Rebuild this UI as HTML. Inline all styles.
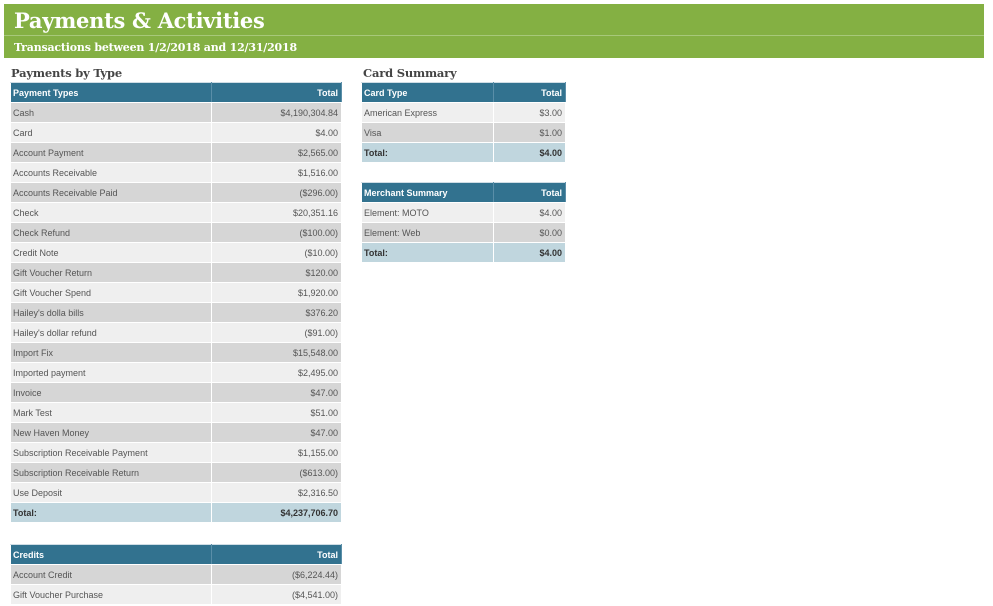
<!DOCTYPE html>
<html><head><meta charset="utf-8"><style>
*{margin:0;padding:0;box-sizing:border-box}
body{width:993px;height:606px;background:#fff;position:relative;overflow:hidden;font-family:"Liberation Sans",sans-serif;font-size:9px;color:#555}
.banner{position:absolute;left:4px;top:4px;width:980px;height:54px;background:#84b043}
.title{position:absolute;left:10px;top:4px;font:bold 21px "DejaVu Serif","Liberation Serif",serif;color:#fff;letter-spacing:-0.3px}
.sub{position:absolute;left:0;top:31px;width:980px;border-top:1px solid #a7c87a;padding:5px 0 0 10px;font:bold 11px "DejaVu Serif","Liberation Serif",serif;color:#fff;letter-spacing:-0.2px}
h2{position:absolute;font:bold 11.5px "DejaVu Serif","Liberation Serif",serif;color:#444;letter-spacing:-0.2px}
table{position:absolute;border-collapse:collapse;table-layout:fixed}
td,th{height:20px;padding:0 3px 0 2px;border:1px solid #fff;border-top:0;border-bottom:1px solid #fff;white-space:nowrap;font-weight:normal}
th{background:#32728f;color:#fff;font-weight:bold;text-align:left;border-top:1px solid #cfdde5;border-right:1px solid #5a8ea8}
th.r,td.r{text-align:right}
tr.d td{background:#d6d6d6}
tr.l td{background:#efefef}
tr.t td{background:#c0d6de;font-weight:bold;color:#333}
</style></head><body>
<div class="banner">
<div class="title">Payments &amp; Activities</div>
<div class="sub">Transactions between 1/2/2018 and 12/31/2018</div>
</div>
<h2 style="left:11px;top:66px">Payments by Type</h2>
<table style="left:10px;top:82px;width:331px">
<colgroup><col style="width:201px"><col style="width:130px"></colgroup>
<tr><th>Payment Types</th><th class="r">Total</th></tr>
<tr class="d"><td>Cash</td><td class="r">$4,190,304.84</td></tr>
<tr class="l"><td>Card</td><td class="r">$4.00</td></tr>
<tr class="d"><td>Account Payment</td><td class="r">$2,565.00</td></tr>
<tr class="l"><td>Accounts Receivable</td><td class="r">$1,516.00</td></tr>
<tr class="d"><td>Accounts Receivable Paid</td><td class="r">($296.00)</td></tr>
<tr class="l"><td>Check</td><td class="r">$20,351.16</td></tr>
<tr class="d"><td>Check Refund</td><td class="r">($100.00)</td></tr>
<tr class="l"><td>Credit Note</td><td class="r">($10.00)</td></tr>
<tr class="d"><td>Gift Voucher Return</td><td class="r">$120.00</td></tr>
<tr class="l"><td>Gift Voucher Spend</td><td class="r">$1,920.00</td></tr>
<tr class="d"><td>Hailey's dolla bills</td><td class="r">$376.20</td></tr>
<tr class="l"><td>Hailey's dollar refund</td><td class="r">($91.00)</td></tr>
<tr class="d"><td>Import Fix</td><td class="r">$15,548.00</td></tr>
<tr class="l"><td>Imported payment</td><td class="r">$2,495.00</td></tr>
<tr class="d"><td>Invoice</td><td class="r">$47.00</td></tr>
<tr class="l"><td>Mark Test</td><td class="r">$51.00</td></tr>
<tr class="d"><td>New Haven Money</td><td class="r">$47.00</td></tr>
<tr class="l"><td>Subscription Receivable Payment</td><td class="r">$1,155.00</td></tr>
<tr class="d"><td>Subscription Receivable Return</td><td class="r">($613.00)</td></tr>
<tr class="l"><td>Use Deposit</td><td class="r">$2,316.50</td></tr>
<tr class="t"><td>Total:</td><td class="r">$4,237,706.70</td></tr>
</table>
<table style="left:10px;top:544px;width:331px">
<colgroup><col style="width:201px"><col style="width:130px"></colgroup>
<tr><th>Credits</th><th class="r">Total</th></tr>
<tr class="d"><td>Account Credit</td><td class="r">($6,224.44)</td></tr>
<tr class="l"><td>Gift Voucher Purchase</td><td class="r">($4,541.00)</td></tr>
</table>
<h2 style="left:363px;top:66px">Card Summary</h2>
<table style="left:361px;top:82px;width:204px">
<colgroup><col style="width:132px"><col style="width:72px"></colgroup>
<tr><th>Card Type</th><th class="r">Total</th></tr>
<tr class="l"><td>American Express</td><td class="r">$3.00</td></tr>
<tr class="d"><td>Visa</td><td class="r">$1.00</td></tr>
<tr class="t"><td>Total:</td><td class="r">$4.00</td></tr>
</table>
<table style="left:361px;top:182px;width:204px">
<colgroup><col style="width:132px"><col style="width:72px"></colgroup>
<tr><th>Merchant Summary</th><th class="r">Total</th></tr>
<tr class="l"><td>Element: MOTO</td><td class="r">$4.00</td></tr>
<tr class="d"><td>Element: Web</td><td class="r">$0.00</td></tr>
<tr class="t"><td>Total:</td><td class="r">$4.00</td></tr>
</table>
</body></html>
